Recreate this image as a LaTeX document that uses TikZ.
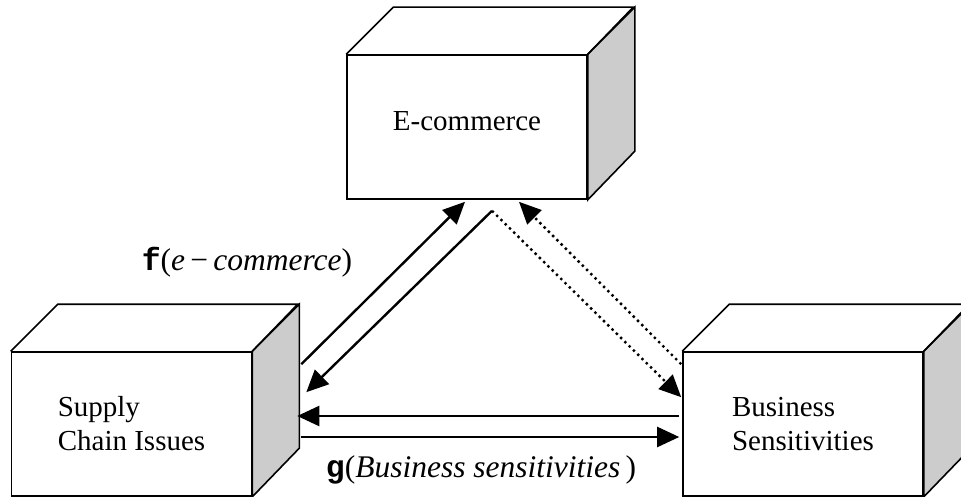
\documentclass[tikz,border=0pt]{standalone}
\usepackage{fontspec}
\setmainfont{Liberation Serif}[ItalicFont={Liberation Serif Italic},
    BoldFont={Liberation Serif Bold}]
\setmonofont{Liberation Mono}[BoldFont={Liberation Mono Bold}]
\usetikzlibrary{arrows.meta,calc}

\tikzset{
    face/.style={draw, line width=1.6pt, fill=white, minimum width=240pt,
        minimum height=144pt, align=left, font=\fontsize{29}{34}\selectfont},
    link/.style={line width=2.4pt, -{Triangle[length=22pt,width=20pt]}},
    dotlink/.style={link, dash pattern=on 2.4pt off 3.6pt},
    fname/.style={font=\fontsize{31.5}{34}\selectfont, anchor=base}
}

\begin{document}
\begin{tikzpicture}[x=1pt,y=-1pt]
        \useasboundingbox (0,0) rectangle (961,497);
        \clip (0,0) rectangle (961,497);
        \node[face] (ec) at (467,127) {E-commerce\\[-22pt]};
        \node[face] (sc) at (131.5,424) {Supply\\Chain Issues};
        \node[face] (bs) at (803,424) {Business\\Sensitivities};
        \foreach \b in {ec,sc,bs} {
            \filldraw [line width=1.6pt, fill=black!20] (\b.north east) -- ++(47,-47)
                -- ++(0,144) -- (\b.south east) -- cycle;
            \draw [line width=1.6pt] (\b.north west) -- ++(47,-47) -- ++(240,0)
                -- (\b.north east);
        }
        \coordinate (ecout) at ($(ec.south)+(25,11)$);
        \draw[link] ($(sc.north east)+(49,13)$) -- ($(ec.south)+(-2,2)$);
        \draw[link] (ecout) -- ($(sc.north east)+(54,41)$);
        \draw[dotlink] (ecout) -- ($(bs.north west)+(-1,46)$);
        \draw[dotlink] ($(bs.north west)+(-1,13)$) -- ($(ec.south)+(52,2)$);
        \draw[link] ($(bs.west)+(-3,-8)$) -- ($(sc.east)+(45,-8)$);
        \draw[link] ($(sc.east)+(49,13)$) -- ($(bs.west)+(-3,13)$);
        \node[fname] (flabel) at (247,270)
            {{\ttfamily\bfseries f}(\textit{e}\,−\,\textit{commerce})};
        \node[fname] (glabel) at (481,477)
            {{\ttfamily\bfseries g}(\textit{Business sensitivities}\,)};
    \end{tikzpicture}
\end{document}
